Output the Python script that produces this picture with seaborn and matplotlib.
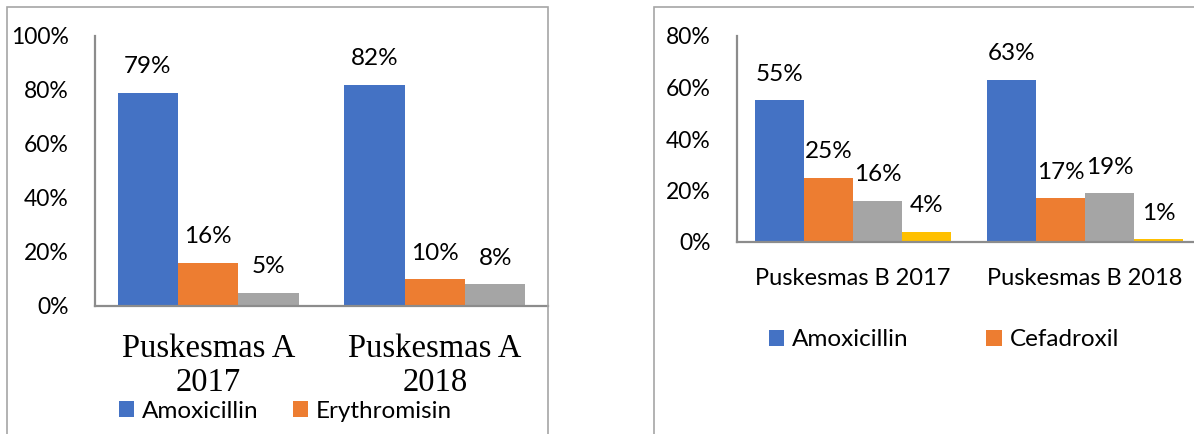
import matplotlib
matplotlib.use("Agg")
import matplotlib.pyplot as plt
import matplotlib.patches as mpatches
from matplotlib.ticker import PercentFormatter
import seaborn as sns
import pandas as pd

# ---- data ----
cats_a = ["Puskesmas A\n2017", "Puskesmas A\n2018"]
series_a = ["Amoxicillin", "Erythromisin", "Lainnya"]
amox_a = [0.79, 0.82]
eryth_a = [0.16, 0.10]
other_a = [0.05, 0.08]

cats_b = ["Puskesmas B 2017", "Puskesmas B 2018"]
series_b = ["Amoxicillin", "Cefadroxil", "Lainnya 1", "Lainnya 2"]
amox_b = [0.55, 0.63]
cefa_b = [0.25, 0.17]
other1_b = [0.16, 0.19]
other2_b = [0.04, 0.01]

yticks_a = [0, 0.2, 0.4, 0.6, 0.8, 1.0]
yticks_b = [0, 0.2, 0.4, 0.6, 0.8]

colors_a = ["#4472C4", "#ED7D31", "#A5A5A5"]
colors_b = ["#4472C4", "#ED7D31", "#A5A5A5", "#FFC000"]

df_a = pd.DataFrame({
    "cat": cats_a * 3,
    "series": sum([[s] * 2 for s in series_a], []),
    "value": amox_a + eryth_a + other_a,
})
df_b = pd.DataFrame({
    "cat": cats_b * 4,
    "series": sum([[s] * 2 for s in series_b], []),
    "value": amox_b + cefa_b + other1_b + other2_b,
})

sns.set_theme(style="white")
plt.rcParams["font.family"] = ["Lato", "DejaVu Sans"]

W, H = 1194, 434
fig = plt.figure(figsize=(W / 100, H / 100), dpi=100)

def fx(px):
    return px / W

def fy(py):
    return 1 - py / H

# panel borders
border_col = "#a6a6a6"
fig.patches.append(mpatches.Rectangle((fx(7), fy(440)), fx(548 - 7), (440 - 7) / H,
                                      transform=fig.transFigure, fill=False,
                                      edgecolor=border_col, lw=1.2, zorder=0))
fig.patches.append(mpatches.Rectangle((fx(654), fy(440)), fx(1260 - 654), (440 - 7) / H,
                                      transform=fig.transFigure, fill=False,
                                      edgecolor=border_col, lw=1.2, zorder=0))

ax_a = fig.add_axes([fx(95), fy(306), fx(548 - 95), (306 - 36) / H])
ax_b = fig.add_axes([fx(737), fy(242), fx(1201 - 737), (242 - 36) / H])

axis_col = "#8c8c8c"

def style(ax, df, palette, yticks, width, ylim):
    sns.barplot(data=df, x="cat", y="value", hue="series", palette=palette,
                ax=ax, width=width, saturation=1, legend=False, linewidth=0)
    ax.set_xlim(-0.5, 1.5)
    ax.set_ylim(*ylim)
    ax.set_yticks(yticks)
    ax.yaxis.set_major_formatter(PercentFormatter(1.0, decimals=0))
    ax.set_xlabel("")
    ax.set_ylabel("")
    for s in ["top", "right"]:
        ax.spines[s].set_visible(False)
    for s in ["left", "bottom"]:
        ax.spines[s].set_color(axis_col)
        ax.spines[s].set_linewidth(1.6)
    ax.tick_params(axis="both", length=0)
    ax.tick_params(axis="y", pad=19, labelsize=16.5, labelcolor="black")
    ax.patch.set_alpha(0)
    for cont in ax.containers:
        for bar in cont:
            h = bar.get_height()
            ax.annotate(f"{h * 100:.0f}%", (bar.get_x() + bar.get_width() / 2, h),
                        xytext=(0, 26), textcoords="offset pixels",
                        ha="center", va="center", fontsize=17.5, color="black")

style(ax_a, df_a, colors_a, yticks_a, 0.8, (0, 1.0))
style(ax_b, df_b, colors_b, yticks_b, 0.845, (0, 0.8))

ax_a.tick_params(axis="x", pad=20)
for lbl in ax_a.get_xticklabels():
    lbl.set_fontfamily("Liberation Serif")
    lbl.set_fontsize(23.5)
    lbl.set_linespacing(1.12)
    lbl.set_color("black")
ax_b.tick_params(axis="x", pad=19, labelsize=17, labelcolor="black")

# legends (only two entries visible in the original)
def legend(labels, colors, anchor, colsp):
    handles = [mpatches.Patch(facecolor=c, edgecolor="none") for c in colors]
    fig.legend(handles, labels, loc="center left", bbox_to_anchor=anchor,
               bbox_transform=fig.transFigure, ncol=len(labels), frameon=False,
               fontsize=17.5, handlelength=0.62, handleheight=0.62,
               handletextpad=0.33, columnspacing=colsp, borderpad=0,
               borderaxespad=0, labelcolor="black")

legend(series_a[:2], colors_a[:2], (fx(119), fy(411)), 1.4)
legend(series_b[:2], colors_b[:2], (fx(769), fy(340)), 3.2)

fig.savefig("out.png", dpi=100)
